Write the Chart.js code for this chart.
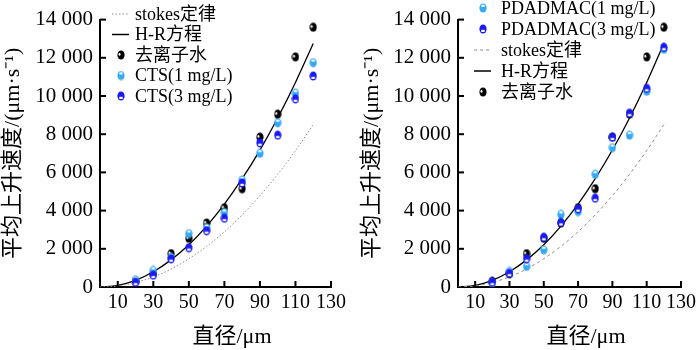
<!DOCTYPE html>
<html>
<head>
<meta charset="utf-8">
<script src="https://cdn.jsdelivr.net/npm/chart.js@4.4.1/dist/chart.umd.min.js"></script>
<style>
  body { margin: 0; background: #fff; }
  .panel { position: absolute; top: 0; width: 350px; height: 350px; }
</style>
</head>
<body>
<div class="panel" style="left:0"><canvas id="grafico-cts" width="350" height="350"></canvas></div>
<div class="panel" style="left:350px"><canvas id="grafico-pdadmac" width="350" height="350"></canvas></div>
<script>
// x positions of the measured points and of the two model curves
const diametros = [20, 30, 40, 50, 60, 70, 80, 90, 100, 110, 120];
const diametrosCurva = [0, 10, 20, 30, 40, 50, 60, 70, 80, 90, 100, 110, 120];
const ticksX = [10, 30, 50, 70, 90, 110, 130];

// model curves
const stokes = [0, 60, 240, 530, 940, 1480, 2130, 2890, 3780, 4780, 5900, 7140, 8500];
const hr = [0, 90, 350, 800, 1420, 2210, 3190, 4340, 5670, 7170, 8850, 10710, 12750];

// measured rise velocities
const aguaDeionizada = [300, 700, 1750, 2550, 3350, 4150, 5150, 7850, 9050, 12050, 13600];
const cts1 = [380, 870, 1550, 2800, 3100, 3900, 5600, 7000, 8600, 10150, 11750];
const cts3 = [250, 620, 1480, 2060, 2950, 3600, 5450, 7550, 7950, 9850, 11050];
const pdadmac1 = [220, 820, 1080, 1950, 3800, 3950, 5900, 7300, 7950, 10250, 12450];
const pdadmac3 = [250, 720, 1480, 2600, 3380, 4100, 4650, 7850, 9100, 10400, 12550];

const fonte = "'Liberation Serif', 'Times New Roman', 'Noto Sans CJK SC', serif";
Chart.defaults.font.family = fonte;
Chart.defaults.color = '#000';

function marcador(tipo, cor) {
    const c = document.createElement('canvas');
    c.width = 8; c.height = 10;
    const g = c.getContext('2d');
    g.fillStyle = cor;
    g.beginPath();
    g.ellipse(4, 5, 3.6, 4.6, 0, 0, Math.PI * 2);
    g.fill();
    g.fillStyle = '#fff';
    if (tipo === 'agua') {
        g.beginPath();
        g.ellipse(2.5, 4.3, 1, 1.5, 0, 0, Math.PI * 2);
        g.fill();
    } else if (tipo === 'claro') {
        g.fillRect(2.4, 1.8, 3.2, 2.2);
    } else {
        g.fillRect(2.3, 5.8, 3.4, 2.2);
    }
    return c;
}

const corClara = '#35a9f2';
const corAzul = '#1a1af5';

function pontos(valores) {
    return diametros.map((d, i) => ({ x: d, y: valores[i] }));
}
function curva(valores) {
    return diametrosCurva.map((d, i) => ({ x: d, y: valores[i] }));
}

function serieLinha(label, valores, tracejado, cor) {
    return {
        label: label, data: curva(valores), showLine: true, pointRadius: 0,
        borderColor: cor, borderWidth: tracejado ? 1 : 1.3, borderDash: tracejado || [],
        cubicInterpolationMode: 'monotone', order: 5
    };
}
function seriePontos(label, valores, estilo, order) {
    return { label: label, data: pontos(valores), pointStyle: estilo, order: order };
}

// inward tick marks + legend drawn inside the plot
const pluginEixos = {
    id: 'eixos',
    afterDraw(chart, args, opts) {
        const ctx = chart.ctx;
        const xs = chart.scales.x, ys = chart.scales.y;
        const area = chart.chartArea;
        ctx.save();
        ctx.strokeStyle = '#000';
        ctx.lineWidth = 2;
        ticksX.forEach(v => {
            const px = xs.getPixelForValue(v);
            ctx.beginPath(); ctx.moveTo(px, area.bottom); ctx.lineTo(px, area.bottom - 6); ctx.stroke();
        });
        ys.ticks.forEach(t => {
            if (t.value === 0) return;
            const py = ys.getPixelForValue(t.value);
            ctx.beginPath(); ctx.moveTo(area.left, py); ctx.lineTo(area.left + 6, py); ctx.stroke();
        });
        // legend
        ctx.font = '18px ' + fonte;
        ctx.textBaseline = 'middle';
        ctx.fillStyle = '#000';
        chart.data.datasets.forEach((ds, i) => {
            const y = opts.y + i * opts.passo;
            if (ds.showLine) {
                ctx.save();
                ctx.strokeStyle = ds.borderColor;
                ctx.lineWidth = ds.borderDash.length ? 1 : 1.5;
                ctx.setLineDash(ds.borderDash);
                ctx.beginPath(); ctx.moveTo(opts.marca - 9, y); ctx.lineTo(opts.marca + 8, y); ctx.stroke();
                ctx.restore();
            } else {
                ctx.drawImage(ds.pointStyle, opts.marca - 4, y - 5);
            }
            ctx.fillText(ds.label, opts.texto, y + 1);
        });
        ctx.restore();
    }
};

function formatar(v) {
    return String(v).replace(/\B(?=(\d{3})+(?!\d))/g, ' ');
}

function opcoes(larguraY, padDireita, padTitulo, legenda) {
    return {
        responsive: false, animation: false, events: [],
        layout: { padding: { top: 13, right: padDireita, left: 0, bottom: 0 } },
        plugins: { legend: { display: false }, tooltip: { enabled: false }, eixos: legenda },
        scales: {
            x: {
                type: 'linear', min: 0, max: 130,
                afterBuildTicks: s => { s.ticks = ticksX.map(v => ({ value: v })); },
                afterFit: s => { s.height = 63; },
                grid: { display: false, drawTicks: false },
                border: { display: true, color: '#000', width: 2 },
                ticks: { autoSkip: false, maxRotation: 0, padding: 4, font: { size: 20 } },
                title: { display: true, text: '      直径/μm', font: { size: 22 }, padding: { top: 0, bottom: 0 } }
            },
            y: {
                min: 0, max: 14000,
                afterFit: s => { s.width = larguraY; },
                grid: { display: false, drawTicks: false },
                border: { display: true, color: '#000', width: 2 },
                ticks: { stepSize: 2000, padding: 7, font: { size: 21 }, callback: v => formatar(v) },
                title: { display: true, text: '平均上升速度/(μm·s⁻¹)', font: { size: 22 }, padding: { top: padTitulo, bottom: 0 } }
            }
        }
    };
}

new Chart(document.getElementById('grafico-cts'), {
    type: 'scatter',
    data: {
        datasets: [
            serieLinha('stokes定律', stokes, [1.5, 2], '#8c8c8c'),
            serieLinha('H-R方程', hr, null, '#000'),
            seriePontos('去离子水', aguaDeionizada, marcador('agua', '#000'), 3),
            seriePontos('CTS(1 mg/L)', cts1, marcador('claro', corClara), 2),
            seriePontos('CTS(3 mg/L)', cts3, marcador('escuro', corAzul), 1)
        ]
    },
    options: opcoes(100, 15, 0, { y: 14, passo: 20.5, marca: 121, texto: 135 }),
    plugins: [pluginEixos]
});

new Chart(document.getElementById('grafico-pdadmac'), {
    type: 'scatter',
    data: {
        datasets: [
            seriePontos('PDADMAC(1 mg/L)', pdadmac1, marcador('claro', corClara), 2),
            seriePontos('PDADMAC(3 mg/L)', pdadmac3, marcador('escuro', corAzul), 1),
            serieLinha('stokes定律', stokes, [3, 3], '#8c8c8c'),
            serieLinha('H-R方程', hr, null, '#000'),
            seriePontos('去离子水', aguaDeionizada, marcador('agua', '#000'), 3)
        ]
    },
    options: opcoes(108, 13, 9, { y: 8, passo: 21, marca: 133, texto: 151 }),
    plugins: [pluginEixos]
});
</script>
</body>
</html>
